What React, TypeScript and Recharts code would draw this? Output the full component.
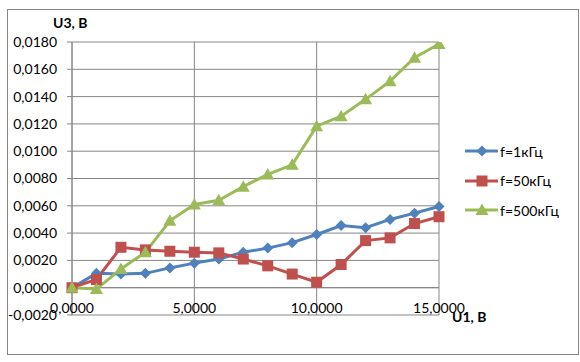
import React from 'react';
import { LineChart, Line, XAxis, YAxis, CartesianGrid, ReferenceLine } from 'recharts';

const u1Values = [0, 1, 2, 3, 4, 5, 6, 7, 8, 9, 10, 11, 12, 13, 14, 15];
const f1kHz = [0, 0.00105, 0.001, 0.00105, 0.00145, 0.0018, 0.0021, 0.0026, 0.0029, 0.0033, 0.0039, 0.00455, 0.0044, 0.005, 0.00546, 0.00595];
const f50kHz = [0, 0.0006, 0.00296, 0.00277, 0.00267, 0.0026, 0.00255, 0.0021, 0.0016, 0.001, 0.0004, 0.0017, 0.00345, 0.00365, 0.0047, 0.0052];
const f500kHz = [0, -0.0001, 0.00137, 0.0026, 0.0049, 0.0061, 0.0064, 0.0074, 0.0083, 0.009, 0.01183, 0.01256, 0.0138, 0.01513, 0.01685, 0.01785];

const xTicks = [0, 5, 10, 15];
const yTicks = [-0.002, 0, 0.002, 0.004, 0.006, 0.008, 0.01, 0.012, 0.014, 0.016, 0.018];

const seriesNames = ['f=1кГц', 'f=50кГц', 'f=500кГц'];
const seriesColors = ['#4F81BD', '#C0504D', '#9BBB59'];
const seriesKeys = ['f1', 'f50', 'f500'];

const data = u1Values.map((u, i) => ({ u, f1: f1kHz[i], f50: f50kHz[i], f500: f500kHz[i] }));

const FONT = 'Lato, "Liberation Sans", sans-serif';
const GRID = '#868686';

const fmt = (v: number) => v.toFixed(4).replace('.', ',');

function Marker({ kind, cx, cy, color }: { kind: number; cx: number; cy: number; color: string }) {
  if (kind === 0) {
    const r = 5.5;
    return <polygon points={`${cx},${cy - r} ${cx + r},${cy} ${cx},${cy + r} ${cx - r},${cy}`} fill={color} />;
  }
  if (kind === 1) {
    const h = 5.5;
    return <rect x={cx - h} y={cy - h} width={2 * h} height={2 * h} fill={color} />;
  }
  const w = 6.5;
  return <polygon points={`${cx},${cy - 6.5} ${cx + w},${cy + 5} ${cx - w},${cy + 5}`} fill={color} />;
}

const makeDot = (kind: number) => (props: any) => {
  const { cx, cy, index } = props;
  if (cx == null || cy == null) return <g key={index} />;
  return <Marker key={index} kind={kind} cx={cx} cy={cy} color={seriesColors[kind]} />;
};

const XTick = (props: any) => {
  const { x, y, payload } = props;
  return (
    <text x={x} y={y - 8} textAnchor="middle" dominantBaseline="central" fontFamily={FONT} fontSize={14} fill="#000">
      {fmt(payload.value)}
    </text>
  );
};

export default function App() {
  return (
    <div style={{ position: 'absolute', left: 0, top: 0, width: 580, height: 362, background: '#fff', fontFamily: FONT }}>
      <div style={{ position: 'absolute', left: 7, top: 9, width: 570, height: 344, border: `1px solid ${GRID}` }} />
      <div style={{ position: 'absolute', left: 0, top: 0 }}>
        <LineChart width={580} height={362} data={data} margin={{ top: 42, right: 141, left: 0, bottom: 0 }}>
          <CartesianGrid stroke={GRID} strokeWidth={1} />
          <XAxis
            dataKey="u"
            type="number"
            domain={[0, 15]}
            ticks={xTicks}
            height={47}
            axisLine={false}
            tickLine={false}
            tickSize={0}
            tickMargin={0}
            tick={<XTick />}
          />
          <YAxis
            type="number"
            domain={[-0.002, 0.018]}
            ticks={yTicks}
            width={72}
            stroke={GRID}
            tickSize={5}
            tickMargin={10}
            tickFormatter={fmt}
            tick={{ fill: '#000', fontFamily: FONT, fontSize: 14 }}
            interval={0}
            allowDataOverflow
          />
          <ReferenceLine y={0} stroke={GRID} strokeWidth={1} />
          {seriesKeys.map((k, i) => (
            <Line
              key={k}
              dataKey={k}
              name={seriesNames[i]}
              stroke={seriesColors[i]}
              strokeWidth={3}
              dot={makeDot(i)}
              activeDot={false}
              isAnimationActive={false}
            />
          ))}
        </LineChart>
      </div>
      <div style={{ position: 'absolute', left: 53, top: 14, fontWeight: 'bold', fontSize: 14, color: '#000' }}>U3, В</div>
      <div style={{ position: 'absolute', left: 452, top: 308, fontWeight: 'bold', fontSize: 14, color: '#000' }}>U1, В</div>
      <div style={{ position: 'absolute', left: 465, top: 141 }}>
        {seriesNames.map((n, i) => (
          <div key={n} style={{ display: 'flex', alignItems: 'center', height: 20, marginBottom: i < 2 ? 9.5 : 0 }}>
            <svg width={34} height={20}>
              <line x1={0} y1={10} x2={33} y2={10} stroke={seriesColors[i]} strokeWidth={3} />
              <Marker kind={i} cx={17} cy={10} color={seriesColors[i]} />
            </svg>
            <span style={{ fontSize: 14, color: '#000', marginLeft: 1 }}>{n}</span>
          </div>
        ))}
      </div>
    </div>
  );
}
